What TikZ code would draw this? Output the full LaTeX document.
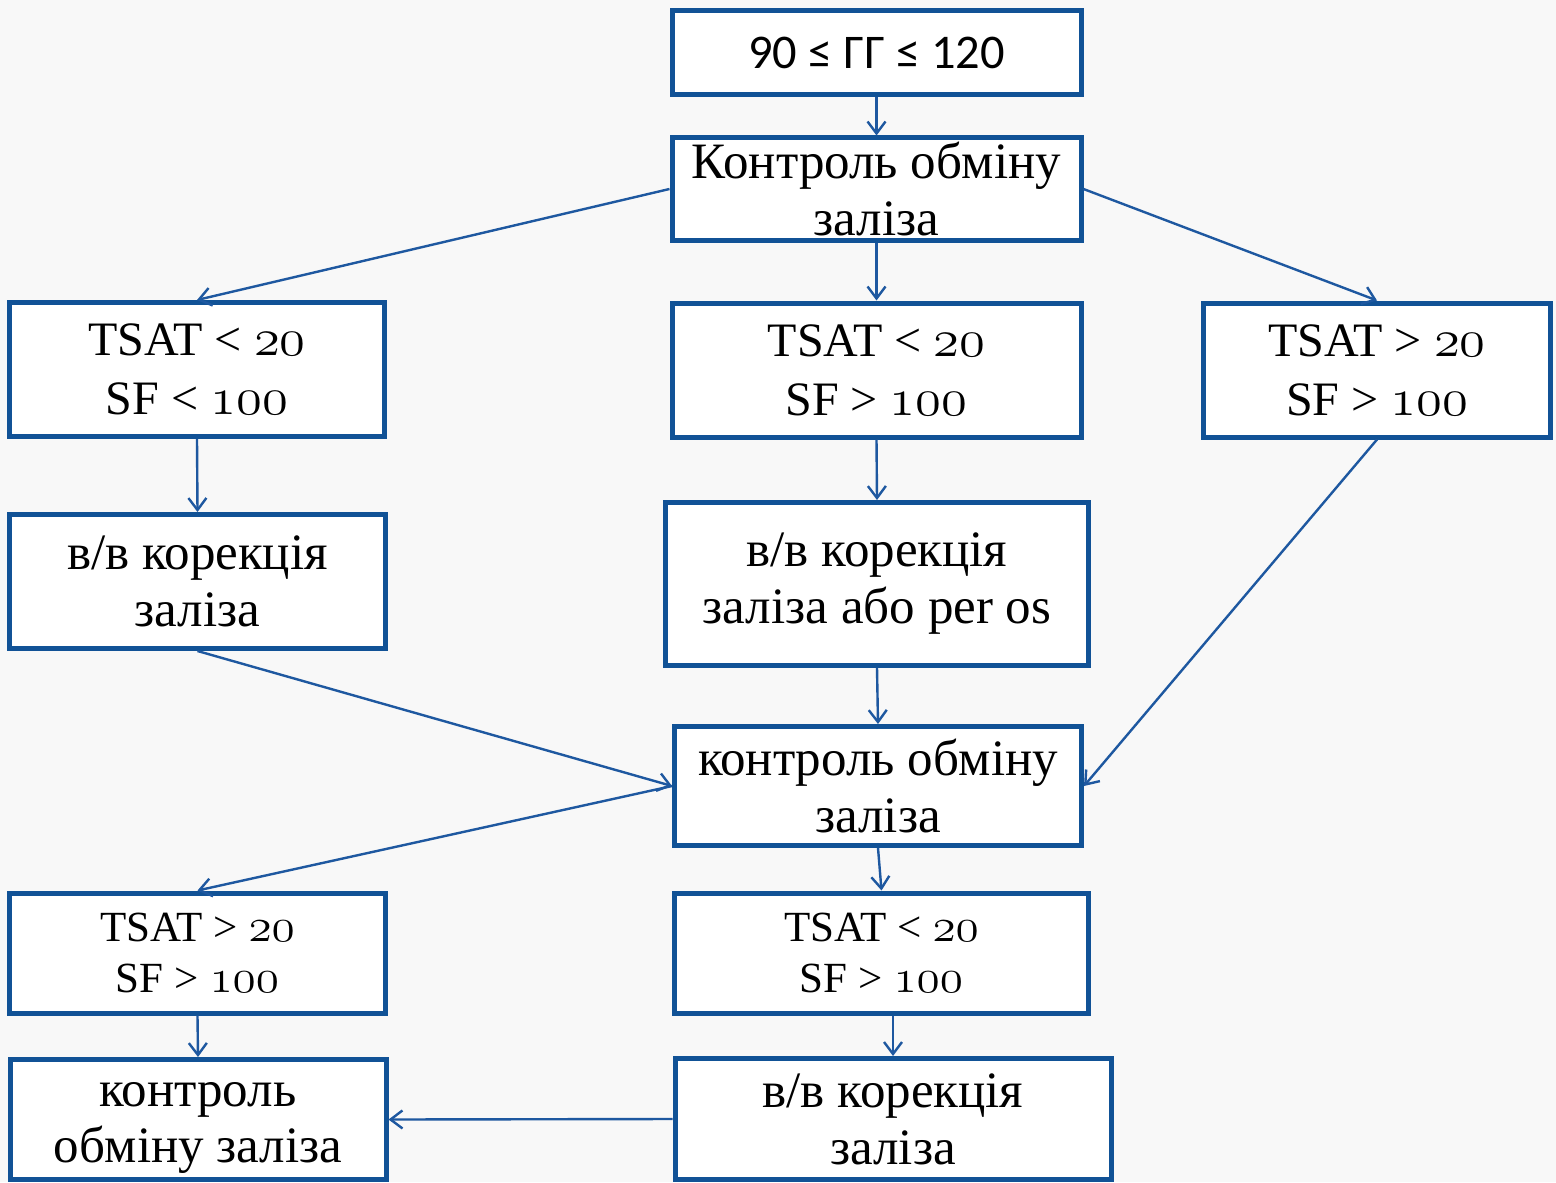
\RequirePackage{fix-cm}
\documentclass[tikz,border=0pt]{standalone}
\usepackage{fontspec}
\setmainfont{Liberation Serif}
\newfontfamily\numfont{Carlito}
\usetikzlibrary{arrows.meta}
\makeatletter
\newcommand\osn[1]{{\fontencoding{OML}\fontfamily{cmm}\fontseries{m}\fontshape{it}\fontsize{\fpeval{1.1*\f@size}}{\f@baselineskip}\selectfont #1}}
\makeatother
\definecolor{boxblue}{RGB}{17,82,150}
\definecolor{lineblue}{RGB}{30,88,160}
\definecolor{bgpat}{RGB}{248,248,248}
\tikzset{
  box/.style={draw=boxblue, line width=2.5pt, fill=white, inner sep=0pt, align=center,
    font=\fontsize{25.5}{28.5}\selectfont},
  tsatbox/.style={box, font=\fontsize{24}{29.5}\selectfont},
  smallbox/.style={box, font=\fontsize{21.5}{25.5}\selectfont},
  plaintext/.style={inner sep=0pt, align=center, font=\fontsize{25.5}{28}\selectfont},
  conn/.style={draw=lineblue, line width=1.2pt, -{Straight Barb[length=6pt,width=9pt,line width=1.2pt]}}
}
\begin{document}
\begin{tikzpicture}[x=0.5pt,y=-0.5pt]
\useasboundingbox (0,0) rectangle (1556,1182);
\fill[bgpat] (0,0) rectangle (1556,1182);
% nodes
\node[box, minimum width=204.5pt, minimum height=42pt, font=\numfont\fontsize{24.2}{28}\selectfont] (top) at (876.5,53) {90 ≤ ГГ ≤ 120};
\node[box, minimum width=204.5pt, minimum height=51pt] (b2) at (876.5,189) {Контроль обміну\\заліза};
\node[tsatbox, minimum width=187.5pt, minimum height=67pt] (lt) at (197,369.5) {TSAT < \osn{20}\\SF < \osn{100}};
\node[tsatbox, minimum width=204.5pt, minimum height=67pt] (mt) at (876.5,370) {TSAT < \osn{20}\\SF > \osn{100}};
\node[tsatbox, minimum width=173.5pt, minimum height=67pt] (rt) at (1377,370) {TSAT > \osn{20}\\SF > \osn{100}};
\node[box, minimum width=188pt, minimum height=67pt] (lv) at (197.5,581.5) {в/в корекція\\заліза};
\node[box, minimum width=211.5pt, minimum height=81.5pt] (mv) at (877,584) {в/в корекція\\заліза або per os};
\node[box, minimum width=203.5pt, minimum height=59.5pt] (k) at (878,786) {контроль обміну\\заліза};
\node[smallbox, minimum width=188pt, minimum height=60pt] (blt) at (197.5,953) {TSAT > \osn{20}\\SF > \osn{100}};
\node[smallbox, minimum width=207pt, minimum height=60pt] (bmt) at (881.5,953) {TSAT < \osn{20}\\SF > \osn{100}};
\node[box, minimum width=188pt, minimum height=60pt] (blk) at (198,1119.5) {};
\node[plaintext] (blkt) at (198,1128) {контроль\\обміну заліза};
\node[box, minimum width=218pt, minimum height=60.5pt] (bmv) at (893,1119) {в/в корекція\\заліза};
% connectors
\draw[conn] (top.south) -- (b2.north);
\draw[conn] (b2.west) -- (lt.north);
\draw[conn] (b2.south) -- (mt.north);
\draw[conn] (b2.east) -- (rt.north);
\draw[conn] (lt.south) -- (lv.north);
\draw[conn] (mt.south) -- (mv.north);
\draw[conn] (rt.south) -- (k.east);
\draw[conn] (lv.south) -- (k.west);
\draw[conn] (mv.south) -- (k.north);
\draw[conn] (k.west) -- (blt.north);
\draw[conn] (k.south) -- (bmt.north);
\draw[conn] (blt.south) -- (blk.north);
\draw[conn] (bmv.north |- bmt.south) -- (bmv.north);
\draw[conn] (bmv.west) -- (blk.east);
\end{tikzpicture}
\end{document}
